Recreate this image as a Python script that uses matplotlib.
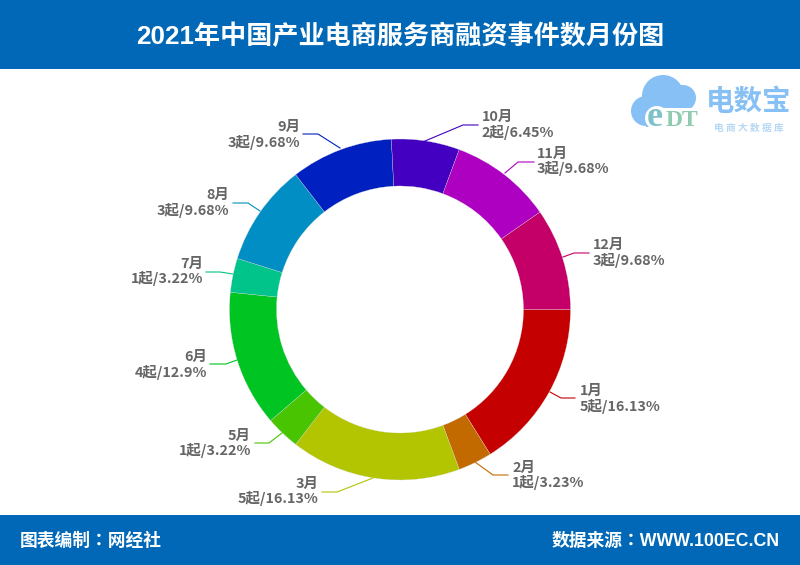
#!/usr/bin/env python3
"""2021 industrial e-commerce financing events by month, donut chart."""
import matplotlib
matplotlib.use("Agg")
import matplotlib.pyplot as plt
from matplotlib.patches import Circle, Rectangle

W, H = 800, 565
BLUE = "#0068b7"
GREY = "#666666"
LOGO = "#86c0f5"
CJK = ["Noto Sans CJK SC", "DejaVu Sans"]
ARIAL_CJK = ["Liberation Sans", "Noto Sans CJK SC"]
ARIAL_TC = ["Liberation Sans", "Noto Sans CJK TC"]

months = ["1月", "2月", "3月", "5月", "6月", "7月", "8月", "9月", "10月", "11月", "12月"]
counts = [5, 1, 5, 1, 4, 1, 3, 3, 2, 3, 3]
shares = ["16.13%", "3.23%", "16.13%", "3.22%", "12.9%", "3.22%", "9.68%", "9.68%", "6.45%", "9.68%", "9.68%"]
colors = ["#c40000", "#c26a00", "#b3c400", "#48c400", "#00c422", "#00c48a",
          "#008ec4", "#0020c0", "#4400c0", "#ae00c0", "#c40068"]

# leader line layout in picture pixels: start, elbow, end, text x, text y
leaders = [
    ((550, 392), (561, 398), (575, 398), 580, 398),
    ((475, 462), (493, 475), (508, 475), 512, 475),
    ((373, 478), (337, 492), (322, 492), 318, 491),
    ((282, 433), (269, 443), (255, 443), 251, 443),
    ((237, 360), (226, 364), (210, 364), 207, 364),
    ((233, 274), (220, 272), (206, 272), 203, 271),
    ((260, 211), (248, 203), (233, 203), 229.5, 202),
    ((340, 148), (318, 134), (303, 134), 300, 134),
    ((425, 141), (463, 125), (478, 125), 481.5, 124),
    ((505, 173), (518, 162), (534, 162), 537, 161),
    ((563, 257), (574, 253), (589, 253), 593, 252),
]


def py(y):
    return H - y


fig = plt.figure(figsize=(W / 100, H / 100), dpi=100)
ax = fig.add_axes([0, 0, 1, 1])

ax.pie(counts, colors=colors, startangle=0, counterclock=False, radius=170.5,
       center=(400, py(309.5)), wedgeprops=dict(width=47, linewidth=0.2, edgecolor="#dddddd"))
ax.set_xlim(0, W)
ax.set_ylim(0, H)
ax.set_aspect("equal")
ax.axis("off")

# header and footer bands
ax.add_patch(Rectangle((0, py(69)), W, 69, color=BLUE, lw=0))
ax.add_patch(Rectangle((0, 0), W, 50, color=BLUE, lw=0))
ax.text(400, py(36), "2021年中国产业电商服务商融资事件数月份图", fontsize=18.8, fontweight="bold",
        color="white", ha="center", va="center", family=ARIAL_CJK)
ax.text(20, py(541), "图表编制：网经社", fontsize=12.8, fontweight="bold",
        color="white", ha="left", va="center", family=ARIAL_TC)
ax.text(780, py(541), "数据来源：WWW.100EC.CN", fontsize=12.8, fontweight="bold",
        color="white", ha="right", va="center", family=ARIAL_TC)

# labels
for month, n, share, color, (p0, p1, p2, tx, ty) in zip(months, counts, shares, colors, leaders):
    ax.plot([p0[0], p1[0], p2[0]], [py(p0[1]), py(p1[1]), py(p2[1])], color=color, lw=0.8)
    ha = "left" if tx > 400 else "right"
    ax.text(tx, py(ty - 6.6), month, fontsize=10.4, fontweight="bold", color=GREY,
            ha=ha, va="center", family=CJK)
    ax.text(tx, py(ty + 8), f"{n}起/{share}", fontsize=10.4, fontweight="bold", color=GREY,
            ha=ha, va="center", family=CJK)

# logo, rough cloud plus wordmark
for cx, cy, r in [(646, 111, 15), (663, 96, 21), (683, 98, 13)]:
    ax.add_patch(Circle((cx, py(cy)), r, color=LOGO, lw=0))
ax.add_patch(Rectangle((646, py(127)), 16, 17, color=LOGO, lw=0))
ax.add_patch(Rectangle((662, py(133)), 46, 25, color="white", lw=0))
ax.add_patch(Circle((657, py(118)), 12, color="white", lw=0))
ax.text(647, py(117), "e", fontsize=26, fontweight="bold", color="#7cc2c8", ha="left", va="center", family="Liberation Serif")
ax.text(666, py(120), "DT", fontsize=17, fontweight="bold", color="#8fcbb0", ha="left", va="center", family="Liberation Serif")
ax.text(749, py(102), "电数宝", fontsize=20.5, fontweight="bold", color=LOGO, ha="center", va="center", family=CJK)
ax.text(749, py(128), "电 商 大 数 据 库", fontsize=7, fontweight="bold", color="#b5d8f5", ha="center", va="center", family=CJK)

fig.savefig("out.png", dpi=100, facecolor="white")
